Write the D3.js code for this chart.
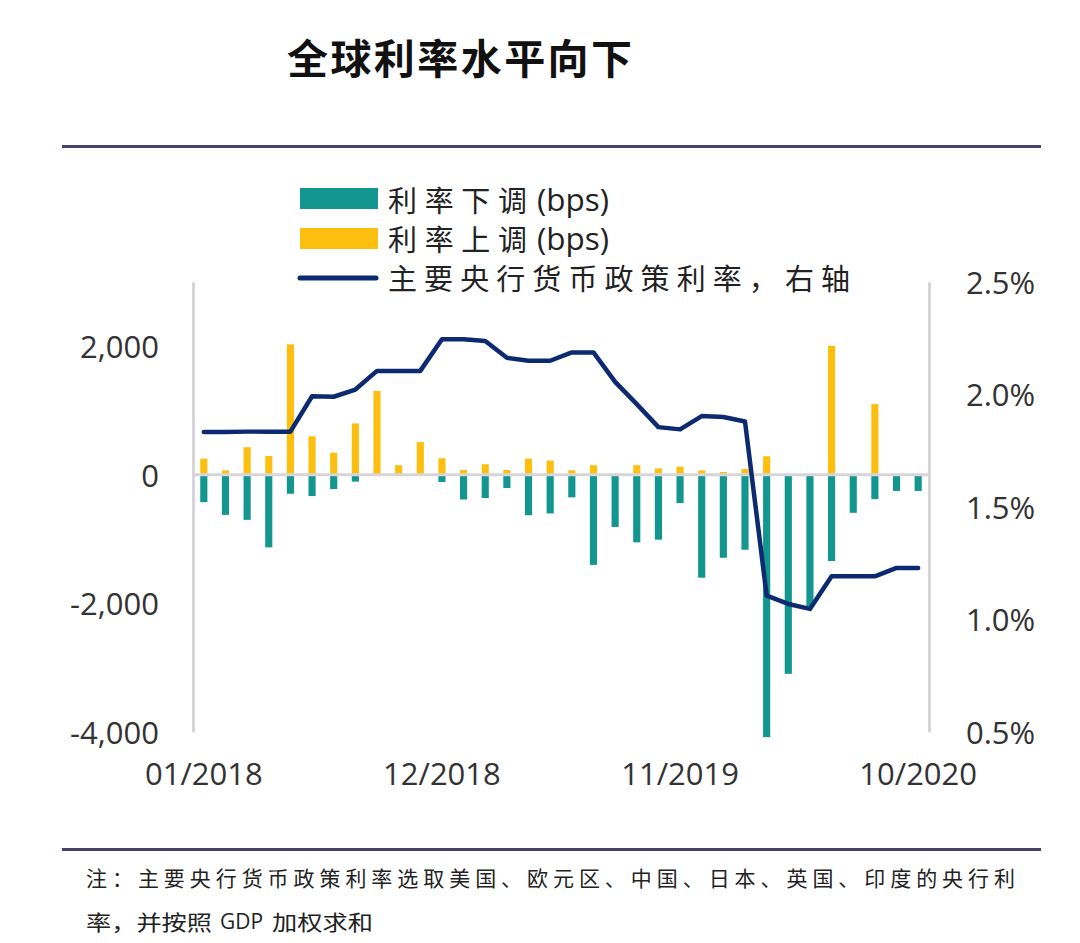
<!DOCTYPE html>
<html>
<head>
<meta charset="utf-8">
<script src="https://cdn.jsdelivr.net/npm/d3@7/dist/d3.min.js"></script>
<style>
  html, body { margin: 0; padding: 0; background: #ffffff; }
  svg { display: block; }
</style>
</head>
<body>
<svg id="chart" width="1080" height="943"></svg>
<script>
// ---- data ----
const months = [
  "01/2018","02/2018","03/2018","04/2018","05/2018","06/2018","07/2018","08/2018","09/2018","10/2018","11/2018","12/2018",
  "01/2019","02/2019","03/2019","04/2019","05/2019","06/2019","07/2019","08/2019","09/2019","10/2019","11/2019","12/2019",
  "01/2020","02/2020","03/2020","04/2020","05/2020","06/2020","07/2020","08/2020","09/2020","10/2020"
];
const cutBps = [
  -425, -622, -700, -1128, -294, -330, -220, -105, 0, 0, 0, -110,
  -383, -360, -205, -628, -600, -350, -1400, -810, -1050, -1008, -440, -1600,
  -1290, -1165, -4080, -3095, -2050, -1340, -590, -378, -250, -250
];
const hikeBps = [
  253, 70, 430, 294, 2030, 600, 345, 800, 1305, 150, 510, 258,
  75, 165, 75, 253, 222, 70, 150, 0, 150, 100, 128, 70,
  45, 90, 290, 0, 0, 2008, 0, 1100, 0, 0
];
const policyRate = [
  1.833, 1.833, 1.835, 1.835, 1.835, 1.992, 1.990, 2.022, 2.105, 2.105, 2.105, 2.246,
  2.246, 2.238, 2.163, 2.150, 2.150, 2.187, 2.187, 2.056, 1.957, 1.855, 1.845, 1.904,
  1.900, 1.880, 1.106, 1.069, 1.047, 1.192, 1.192, 1.192, 1.229, 1.229
];
const leftTicks = [-4000, -2000, 0, 2000];
const rightTicks = [0.5, 1.0, 1.5, 2.0, 2.5];
const xTickLabels = ["01/2018", "12/2018", "11/2019", "10/2020"];
const title = "全球利率水平向下";
const legendCjk = ["利率下调", "利率上调", "主要央行货币政策利率，右轴"];
const legendUnit = ["(bps)", "(bps)", ""];
const noteLine1 = "注：主要央行货币政策利率选取美国、欧元区、中国、日本、英国、印度的央行利";
const noteLine2Parts = ["率，并按照", "GDP", "加权求和"];

// ---- styles ----
const TEAL = "#13968f";
const GOLD = "#fdbf0f";
const NAVY = "#0b2a70";
const GRID = "#d6d6d8";
const RULE = "#47436b";
const LATIN = "'Open Sans', 'Noto Sans CJK SC', sans-serif";
const CJK = "'Noto Sans CJK SC', sans-serif";

const svg = d3.select("#chart");

// title
svg.append("text")
  .attr("x", 287).attr("y", 56)
  .attr("dominant-baseline", "central")
  .attr("font-family", CJK).attr("font-weight", 700).attr("font-size", 41)
  .attr("fill", "#111")
  .attr("textLength", 345).attr("lengthAdjust", "spacing")
  .text(title);

// rules
svg.append("line").attr("x1", 62).attr("x2", 1041).attr("y1", 146.5).attr("y2", 146.5)
  .attr("stroke", RULE).attr("stroke-width", 3);
svg.append("line").attr("x1", 62).attr("x2", 1041).attr("y1", 849.5).attr("y2", 849.5)
  .attr("stroke", RULE).attr("stroke-width", 3);

// scales
const plotL = 193, plotR = 929, plotT = 282, plotB = 732;
const x = d3.scaleBand().domain(months).range([plotL, plotR]).padding(0);
const yL = d3.scaleLinear().domain([-4000, 3000]).range([plotB, plotT]);
const yR = d3.scaleLinear().domain([0.5, 2.5]).range([plotB, plotT]);
const bw = x.bandwidth() * 0.33;
const cx = m => x(m) + x.bandwidth() / 2;
const fmtL = d => d3.format(",")(d).replace("\u2212", "-");

// axes
const axL = svg.append("g").attr("transform", `translate(${plotL},0)`)
  .call(d3.axisLeft(yL).tickValues(leftTicks).tickFormat(fmtL).tickSize(0).tickSizeOuter(0).tickPadding(34));
const axR = svg.append("g").attr("transform", `translate(${plotR},0)`)
  .call(d3.axisRight(yR).tickValues(rightTicks).tickFormat(d => d.toFixed(1) + "%").tickSize(0).tickSizeOuter(0).tickPadding(37));
const axB = svg.append("g").attr("transform", `translate(0,${plotB})`)
  .call(d3.axisBottom(x).tickValues(xTickLabels).tickSize(0).tickPadding(31));
axB.select(".domain").remove();
[axL, axR].forEach(a => a.select(".domain").attr("stroke", GRID).attr("stroke-width", 3));
[axL, axR, axB].forEach(a => a.selectAll("text")
  .attr("font-family", LATIN).attr("font-size", 31).attr("fill", "#333"));
axL.selectAll("text").attr("dy", "0.36em");
axR.selectAll("text").attr("dy", "0.36em");

// bars
svg.append("g").selectAll("rect").data(months).join("rect")
  .attr("x", (m) => cx(m) - bw / 2)
  .attr("width", bw)
  .attr("y", (m, i) => yL(Math.max(0, hikeBps[i])))
  .attr("height", (m, i) => Math.abs(yL(hikeBps[i]) - yL(0)))
  .attr("fill", GOLD);
svg.append("g").selectAll("rect").data(months).join("rect")
  .attr("x", (m) => cx(m) - bw / 2)
  .attr("width", bw)
  .attr("y", yL(0))
  .attr("height", (m, i) => Math.abs(yL(cutBps[i]) - yL(0)))
  .attr("fill", TEAL);

// zero line
svg.append("line").attr("x1", plotL).attr("x2", plotR)
  .attr("y1", yL(0)).attr("y2", yL(0))
  .attr("stroke", GRID).attr("stroke-width", 3);

// policy rate line
const line = d3.line().x((d, i) => cx(months[i])).y(d => yR(d));
svg.append("path").datum(policyRate)
  .attr("d", line).attr("fill", "none")
  .attr("stroke", NAVY).attr("stroke-width", 4.5)
  .attr("stroke-linejoin", "round").attr("stroke-linecap", "round");

// legend
const lg = svg.append("g");
lg.append("rect").attr("x", 300).attr("y", 188).attr("width", 78).attr("height", 21).attr("fill", TEAL);
lg.append("rect").attr("x", 300).attr("y", 228).attr("width", 78).attr("height", 21).attr("fill", GOLD);
lg.append("line").attr("x1", 300).attr("x2", 376).attr("y1", 278).attr("y2", 278)
  .attr("stroke", NAVY).attr("stroke-width", 5).attr("stroke-linecap", "round");
const legY = [199, 238, 277];
const legCjkW = [139, 139, 462];
legendCjk.forEach((t, i) => {
  lg.append("text").attr("x", 388).attr("y", legY[i])
    .attr("dominant-baseline", "central")
    .attr("font-family", CJK).attr("font-size", 29).attr("fill", "#222")
    .attr("textLength", legCjkW[i]).attr("lengthAdjust", "spacing")
    .text(t);
  if (legendUnit[i]) {
    lg.append("text").attr("x", 537).attr("y", legY[i])
      .attr("dominant-baseline", "central")
      .attr("font-family", LATIN).attr("font-size", 31).attr("fill", "#222")
      .attr("textLength", 72).attr("lengthAdjust", "spacingAndGlyphs")
      .text(legendUnit[i]);
  }
});

// note
svg.append("text").attr("x", 86).attr("y", 877)
  .attr("dominant-baseline", "central")
  .attr("font-family", CJK).attr("font-size", 21).attr("fill", "#222")
  .attr("textLength", 929).attr("lengthAdjust", "spacing")
  .text(noteLine1);
const n2x = [86, 220, 272];
const n2w = [126, 43, 101];
const n2f = [CJK, LATIN, CJK];
noteLine2Parts.forEach((t, i) => {
  svg.append("text").attr("x", n2x[i]).attr("y", 921)
    .attr("dominant-baseline", "central")
    .attr("font-family", n2f[i]).attr("font-size", 21).attr("fill", "#222")
    .attr("textLength", n2w[i]).attr("lengthAdjust", "spacingAndGlyphs")
    .text(t);
});
</script>
</body>
</html>
